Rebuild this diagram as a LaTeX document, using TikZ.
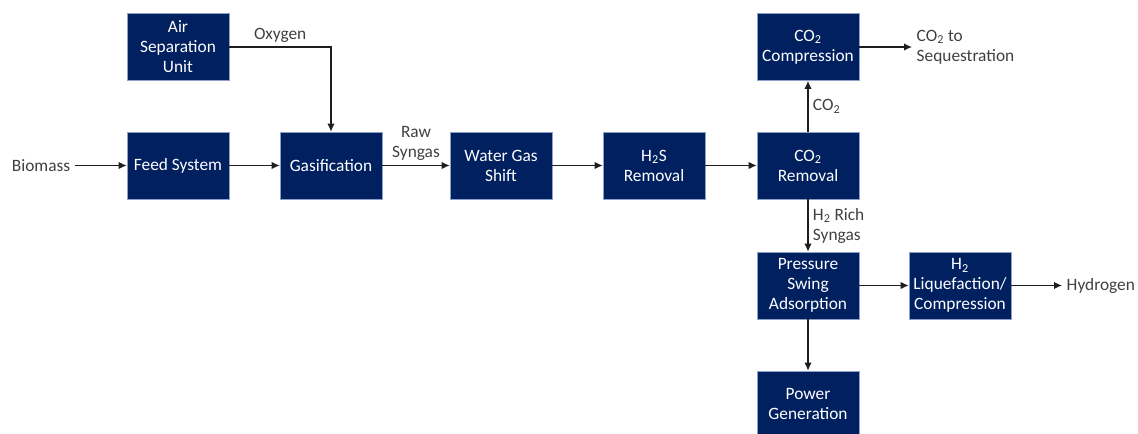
\documentclass[tikz,border=0pt]{standalone}
\usepackage{fontspec}
\setmainfont{Carlito}
\usepackage{xcolor}
\usepackage{tikz}
\usetikzlibrary{shapes,arrows,arrows.meta,positioning}
\definecolor{unitcolor}{RGB}{0,32,96}
\definecolor{edgecolor}{RGB}{140,160,200}
\definecolor{flowcolor}{RGB}{30,30,30}
\definecolor{labelcolor}{RGB}{64,64,64}

\begin{document}
\begin{tikzpicture}[x=0.75pt, y=-0.75pt,
  font=\fontsize{13}{15}\selectfont,
  unit/.style={rectangle, draw=edgecolor, line width=0.5pt, fill=unitcolor, text=white, minimum width=76.5pt, minimum height=50.25pt, align=center, inner sep=2pt},
  stream/.style={text=labelcolor, align=left},
  flow/.style={-{Latex[length=6pt,width=5.5pt]}, line width=0.8pt, draw=flowcolor}
]
\useasboundingbox (0,0) rectangle (1138,434);

% Main gasification train
\node[stream] (biomass) at (41,165.5) {Biomass};
\node[unit] (feed) at (178,165.5) {Feed System};
\node[unit] (asu) at (178,47) {Air\\Separation\\Unit};
\node[unit] (gasif) at (331,165.5) {Gasification};
\node[unit] (wgs) at (501,165.5) {Water Gas\\Shift};
\node[unit] (h2s) at (654,165.5) {H\textsubscript{2}S\\Removal};
\node[unit] (co2rem) at (808,165.5) {CO\textsubscript{2}\\Removal};

% CO2 branch
\node[unit] (co2comp) at (808,47) {CO\textsubscript{2}\\Compression};
\node[stream, anchor=west] (seq) at (912,47) {CO\textsubscript{2} to\\Sequestration};

% Hydrogen branch
\node[unit] (psa) at (808,285.5) {Pressure\\Swing\\Adsorption};
\node[unit] (h2liq) at (960,285.5) {H\textsubscript{2}\\Liquefaction/\\Compression};
\node[stream, anchor=west] (hydrogen) at (1062,285.5) {Hydrogen};
\node[unit] (power) at (808,404.5) {Power\\Generation};

% Connections
\draw[flow] (biomass) -- (feed);
\draw[flow] (feed) -- (gasif);
\draw[flow] (asu) -| (gasif) node[stream, pos=0.25, above] {Oxygen};
\draw[flow] (gasif) -- (wgs) node[stream, midway, above, align=center] {Raw\\Syngas};
\draw[flow] (wgs) -- (h2s);
\draw[flow] (h2s) -- (co2rem);
\draw[flow] (co2rem) -- (co2comp) node[stream, midway, right] {CO\textsubscript{2}};
\draw[flow] (co2comp) -- (seq);
\draw[flow] (co2rem) -- (psa) node[stream, midway, right] {H\textsubscript{2} Rich\\Syngas};
\draw[flow] (psa) -- (h2liq);
\draw[flow] (h2liq) -- (hydrogen);
\draw[flow] (psa) -- (power);

\end{tikzpicture}
\end{document}
